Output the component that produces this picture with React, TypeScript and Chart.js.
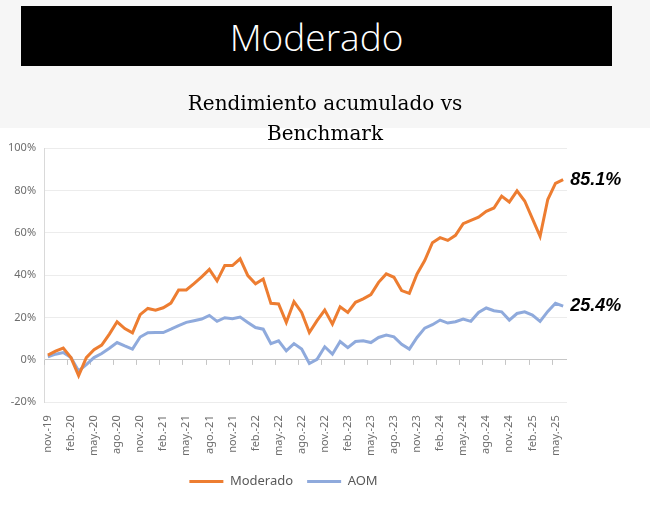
import React, { useEffect, useRef } from 'react';
import { Chart, registerables } from 'chart.js';

Chart.register(...registerables);

const headerTitle = 'Moderado';
const chartTitle = ['Rendimiento acumulado vs', 'Benchmark'];
const seriesNames = ['Moderado', 'AOM'];
const seriesColors = ['#ED7D31', '#8FAADC'];

const labels = [
  'nov.-19', 'dic.-19',
  'ene.-20', 'feb.-20', 'mar.-20', 'abr.-20', 'may.-20', 'jun.-20', 'jul.-20', 'ago.-20', 'sep.-20', 'oct.-20', 'nov.-20', 'dic.-20',
  'ene.-21', 'feb.-21', 'mar.-21', 'abr.-21', 'may.-21', 'jun.-21', 'jul.-21', 'ago.-21', 'sep.-21', 'oct.-21', 'nov.-21', 'dic.-21',
  'ene.-22', 'feb.-22', 'mar.-22', 'abr.-22', 'may.-22', 'jun.-22', 'jul.-22', 'ago.-22', 'sep.-22', 'oct.-22', 'nov.-22', 'dic.-22',
  'ene.-23', 'feb.-23', 'mar.-23', 'abr.-23', 'may.-23', 'jun.-23', 'jul.-23', 'ago.-23', 'sep.-23', 'oct.-23', 'nov.-23', 'dic.-23',
  'ene.-24', 'feb.-24', 'mar.-24', 'abr.-24', 'may.-24', 'jun.-24', 'jul.-24', 'ago.-24', 'sep.-24', 'oct.-24', 'nov.-24', 'dic.-24',
  'ene.-25', 'feb.-25', 'mar.-25', 'abr.-25', 'may.-25', 'jun.-25',
];

const moderado = [
  2.3, 4.1, 5.6, 1.1, -7.4, 1.1, 4.8, 7.0, 12.2, 18.0,
  14.8, 12.8, 21.4, 24.3, 23.5, 24.6, 26.8, 33.0, 33.0, 36.0,
  39.2, 42.7, 37.3, 44.5, 44.5, 47.7, 39.8, 35.9, 38.2, 26.7,
  26.4, 17.7, 27.5, 22.4, 12.9, 18.5, 23.5, 16.9, 25.1, 22.4,
  27.2, 28.8, 30.8, 36.6, 40.6, 39.0, 32.7, 31.4, 40.6, 46.9,
  55.3, 57.7, 56.4, 58.8, 64.3, 65.9, 67.4, 70.1, 71.7, 77.3,
  74.5, 79.8, 75.0, 66.7, 58.3, 75.7, 83.3, 85.1,
];

const aom = [
  1.5, 2.7, 3.5, 1.1, -5.2, -2.2, 1.1, 3.0, 5.5, 8.2,
  6.6, 5.1, 10.8, 12.8, 12.9, 12.9, 14.5, 16.2, 17.7, 18.5,
  19.3, 21.0, 18.2, 19.9, 19.4, 20.2, 17.7, 15.3, 14.5, 7.7,
  9.0, 4.3, 7.7, 5.1, -1.7, 0.3, 6.2, 2.7, 8.7, 5.8,
  8.7, 9.0, 8.2, 10.6, 11.7, 10.9, 7.4, 5.1, 10.6, 15.0,
  16.6, 18.8, 17.4, 18.0, 19.3, 18.2, 22.4, 24.5, 23.2, 22.7,
  18.8, 21.9, 22.7, 21.2, 18.2, 22.9, 26.7, 25.4,
];

const yMin = -20;
const yMax = 100;
const yStep = 20;
const labelEvery = 3;

const zeroTicks = {
  id: 'zeroTicks',
  beforeDatasetsDraw(chart: any) {
    const { ctx, scales } = chart;
    const x = scales.x;
    const y = scales.y;
    const y0 = y.getPixelForValue(0);
    const half = (x.getPixelForValue(1) - x.getPixelForValue(0)) / 2;
    ctx.save();
    ctx.strokeStyle = '#c6c6c6';
    ctx.lineWidth = 1;
    for (let i = 0; i < labels.length; i += labelEvery) {
      const px = Math.round(x.getPixelForValue(i) - half) + 0.5;
      ctx.beginPath();
      ctx.moveTo(px, y0);
      ctx.lineTo(px, y0 + 5);
      ctx.stroke();
    }
    ctx.restore();
  },
};

const endLabels = {
  id: 'endLabels',
  afterDatasetsDraw(chart: any) {
    const ctx = chart.ctx;
    chart.data.datasets.forEach((ds: any, di: number) => {
      const meta = chart.getDatasetMeta(di);
      const pt = meta.data[meta.data.length - 1];
      const v = ds.data[ds.data.length - 1];
      ctx.save();
      ctx.font = 'italic bold 18px "Liberation Sans"';
      ctx.fillStyle = '#000000';
      ctx.textBaseline = 'middle';
      ctx.textAlign = 'left';
      ctx.fillText(v.toFixed(1) + '%', pt.x + 7, pt.y);
      ctx.restore();
    });
  },
};

function LineChart() {
  const ref = useRef<HTMLCanvasElement | null>(null);
  useEffect(() => {
    if (!ref.current) return;
    const tickFont = { family: '"Noto Sans"', size: 11 };
    const chart = new Chart(ref.current, {
      type: 'line',
      data: {
        labels,
        datasets: [
          {
            label: seriesNames[0],
            data: moderado,
            borderColor: seriesColors[0],
            backgroundColor: seriesColors[0],
            borderWidth: 3,
            pointRadius: 0,
            tension: 0,
          },
          {
            label: seriesNames[1],
            data: aom,
            borderColor: seriesColors[1],
            backgroundColor: seriesColors[1],
            borderWidth: 3,
            pointRadius: 0,
            tension: 0,
          },
        ],
      },
      options: {
        responsive: true,
        maintainAspectRatio: false,
        animation: false,
        layout: { padding: { left: 0, right: 83, top: 68, bottom: 8 } },
        plugins: {
          title: { display: false },
          legend: {
            position: 'bottom',
            labels: {
              boxWidth: 34,
              boxHeight: 3,
              color: '#595959',
              font: { family: '"Noto Sans"', size: 13 },
              padding: 14,
              generateLabels: (c: any) =>
                Chart.defaults.plugins.legend.labels
                  .generateLabels(c)
                  .map((it: any) => ({ ...it, lineWidth: 0 })),
            },
          },
          tooltip: { enabled: false },
        },
        scales: {
          x: {
            offset: true,
            grid: { display: false },
            border: { display: false },
            ticks: {
              autoSkip: false,
              maxRotation: 90,
              minRotation: 90,
              color: '#6d6d6d',
              font: tickFont,
              padding: 5,
              callback: (_v: any, i: number) => (i % labelEvery === 0 ? labels[i] : ''),
            },
          },
          y: {
            min: yMin,
            max: yMax,
            ticks: {
              stepSize: yStep,
              color: '#6d6d6d',
              font: tickFont,
              padding: 8,
              callback: (v: any) => v + '%',
            },
            grid: {
              drawTicks: false,
              color: (ctx: any) => (ctx.tick && ctx.tick.value === 0 ? '#c6c6c6' : '#ececec'),
            },
            border: { display: true, color: '#d9d9d9' },
          },
        },
      },
      plugins: [zeroTicks, endLabels],
    } as any);
    return () => chart.destroy();
  }, []);
  return <canvas ref={ref} />;
}

export default function App() {
  return (
    <div style={{ position: 'absolute', left: 0, top: 0, width: 650, height: 506, background: '#ffffff', overflow: 'hidden' }}>
      <div style={{ position: 'absolute', left: 0, top: 0, width: 650, height: 128, background: '#f6f6f6' }} />
      <div
        style={{
          position: 'absolute', left: 21, top: 6, width: 591, height: 60, background: '#000000',
          color: '#ffffff', display: 'flex', alignItems: 'center', justifyContent: 'center',
          fontFamily: '"Open Sans", "Noto Sans", sans-serif', fontWeight: 300, fontSize: 37,
        }}
      >
        {headerTitle}
      </div>
      <div style={{ position: 'absolute', left: 0, top: 80, width: 650, height: 426 }}>
        <LineChart />
      </div>
      <div
        style={{
          position: 'absolute', left: 0, top: 88, width: 650, textAlign: 'center',
          fontFamily: '"DejaVu Serif", serif', fontSize: 20, lineHeight: '30px', color: '#000000',
        }}
      >
        {chartTitle.map((t) => (
          <div key={t}>{t}</div>
        ))}
      </div>
    </div>
  );
}
